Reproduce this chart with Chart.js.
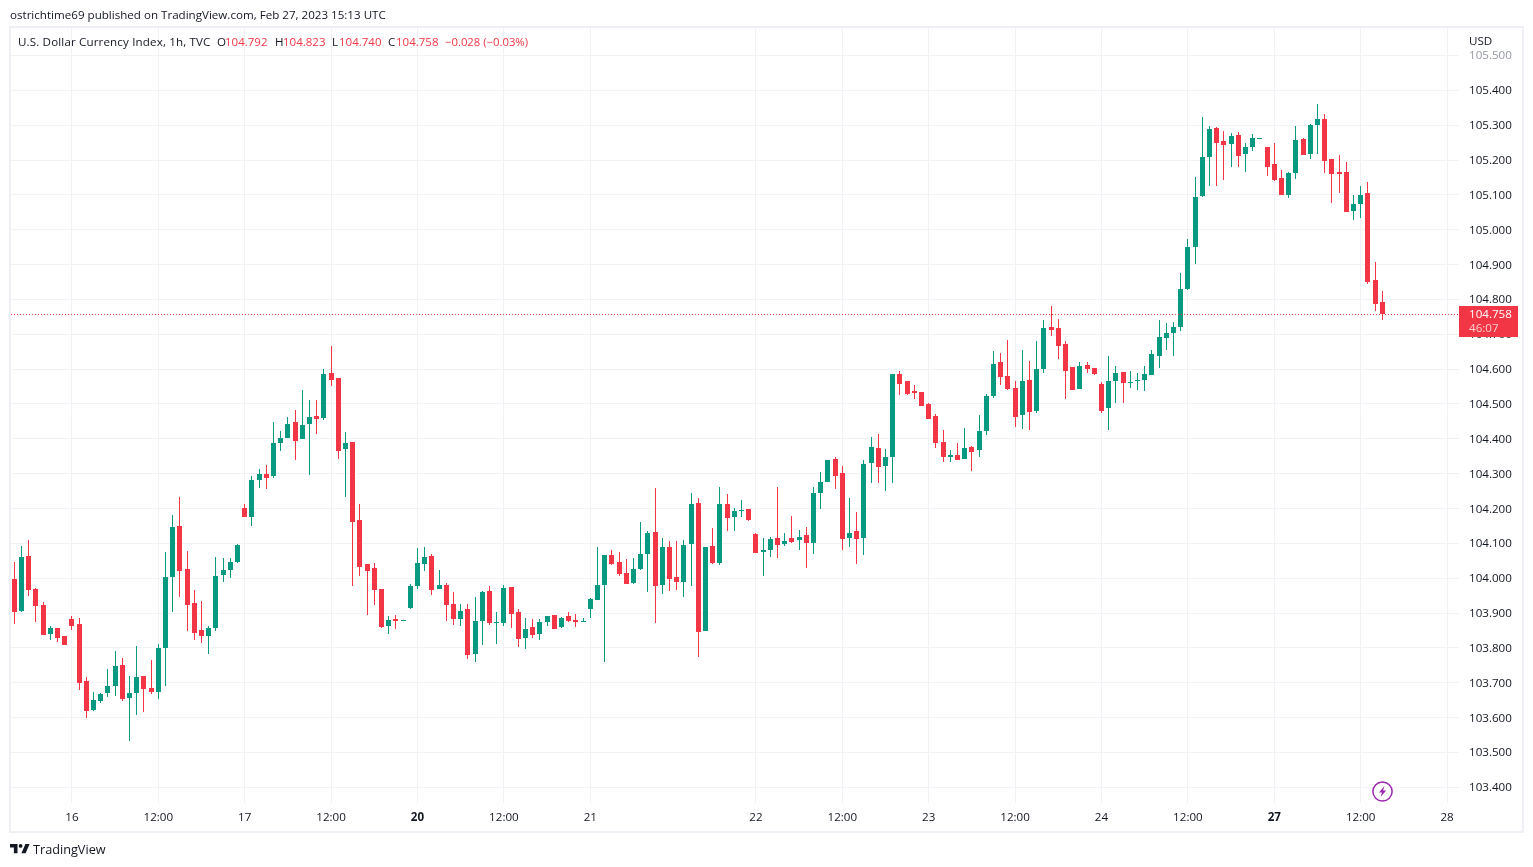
<!DOCTYPE html>
<html><head><meta charset="utf-8">
<script src="https://cdn.jsdelivr.net/npm/chart.js@4"></script>
<style>
html,body{margin:0;padding:0;background:#fff;width:1533px;height:867px;overflow:hidden}
body{font-family:"Open Sans",sans-serif;color:#131722;font-size:11.6px;position:relative}
canvas{position:absolute;left:0;top:0}
.t{position:absolute;white-space:nowrap;line-height:16px}
.r{color:#f23645;font-size:11.5px}
#frame{position:absolute;left:9px;top:26px;width:1511px;height:803px;border:2px solid #eef0f6}
</style></head><body>
<div id="frame"></div>
<canvas id="c" width="1533" height="867" style="width:1533px;height:867px"></canvas>
<div class="t" style="left:10px;top:7px">ostrichtime69 published on TradingView.com, Feb 27, 2023 15:13 UTC</div>
<div class="t" style="left:18px;top:34px;letter-spacing:.14px">U.S. Dollar Currency Index, 1h, TVC</div>
<div class="t" style="left:217px;top:34px">O</div><div class="t r" style="left:225px;top:34px">104.792</div>
<div class="t" style="left:275px;top:34px">H</div><div class="t r" style="left:283px;top:34px">104.823</div>
<div class="t" style="left:332px;top:34px">L</div><div class="t r" style="left:339px;top:34px">104.740</div>
<div class="t" style="left:388px;top:34px">C</div><div class="t r" style="left:396px;top:34px">104.758</div>
<div class="t r" style="left:445px;top:34px;font-size:11.3px">−0.028 (−0.03%)</div>
<div class="t" style="left:1469px;top:33px">USD</div>
<svg style="position:absolute;left:1371px;top:780px" width="24" height="24" viewBox="0 0 24 24"><circle cx="11.5" cy="11.5" r="9.6" fill="#fff" stroke="#9c27b0" stroke-width="1.5"/><path d="M13.5 6 L8 12.6 H11 L9.6 17 L15.2 10.6 H12.1 Z" fill="#9c27b0"/></svg>
<svg style="position:absolute;left:10px;top:844px" width="20" height="10" viewBox="0 0 20 10"><path d="M0 0H7.5V9.2H3.9V3.4H0Z" fill="#131722"/><circle cx="10.6" cy="1.9" r="1.9" fill="#131722"/><path d="M15.4 0H19.6L15.6 9.2H11.4Z" fill="#131722"/></svg>
<div class="t" style="left:33px;top:841px;font-size:12.7px">TradingView</div>
<script>
const opens=[103.998,103.906,104.064,103.969,103.923,103.840,103.857,103.834,103.883,103.869,
103.705,103.622,103.648,103.671,103.691,103.751,103.656,103.671,103.720,103.685,
103.674,103.800,104.004,104.150,104.027,103.929,103.852,103.834,103.857,104.010,
104.024,104.047,104.202,104.176,104.282,104.300,104.294,104.389,104.403,104.449,
104.400,104.443,104.466,104.460,104.590,104.575,104.371,104.391,104.167,104.041,
104.030,103.969,103.863,103.883,103.878,103.915,103.978,104.041,104.064,103.969,
103.981,103.926,103.883,103.912,103.783,103.878,103.964,103.873,103.872,103.975,
103.903,103.829,103.860,103.840,103.875,103.895,103.860,103.892,103.880,103.875,
103.912,103.938,103.981,104.067,104.047,104.015,103.987,104.027,104.070,104.133,
103.981,104.090,104.004,103.989,104.099,104.216,103.849,104.093,104.044,104.213,
104.176,104.193,104.199,104.127,104.076,104.081,104.116,104.099,104.116,104.110,
104.124,104.101,104.245,104.277,104.343,104.302,104.116,104.136,104.116,104.331,
104.374,104.323,104.348,104.587,104.567,104.538,104.535,104.501,104.466,104.391,
104.348,104.354,104.343,104.377,104.368,104.423,104.523,104.620,104.580,104.546,
104.467,104.570,104.481,104.599,104.720,104.717,104.671,104.605,104.542,104.613,
104.602,104.556,104.487,104.565,104.593,104.559,104.565,104.570,104.582,104.639,
104.688,104.705,104.720,104.829,104.949,105.096,105.208,105.291,105.254,105.245,
105.271,105.216,105.236,105.260,105.236,105.188,105.147,105.101,105.162,105.259,
105.216,105.300,105.317,105.202,105.165,105.167,105.053,105.073,105.104,104.855,
104.792];
const highs=[104.047,104.093,104.110,103.972,103.932,103.863,103.857,103.834,103.892,103.886,
103.717,103.674,103.671,103.740,103.791,103.771,103.720,103.806,103.720,103.766,
103.811,104.076,104.182,104.234,104.078,103.967,103.935,103.863,104.061,104.058,
104.058,104.099,104.213,104.294,104.314,104.325,104.449,104.423,104.463,104.483,
104.541,104.512,104.512,104.601,104.667,104.575,104.420,104.391,104.213,104.041,
104.044,103.969,103.892,103.895,103.880,103.984,104.087,104.090,104.070,104.024,
103.987,103.961,103.926,103.926,103.946,103.964,103.978,103.903,103.981,103.975,
103.912,103.886,103.883,103.883,103.892,103.895,103.889,103.903,103.898,103.886,
103.944,104.090,104.067,104.081,104.076,104.056,104.058,104.162,104.136,104.259,
104.116,104.107,104.107,104.110,104.245,104.231,104.090,104.145,104.262,104.242,
104.202,104.225,104.199,104.130,104.116,104.119,104.262,104.130,104.179,104.139,
104.147,104.262,104.305,104.340,104.348,104.323,104.231,104.190,104.340,104.406,
104.414,104.371,104.587,104.595,104.567,104.555,104.535,104.503,104.472,104.426,
104.368,104.389,104.432,104.380,104.469,104.529,104.652,104.646,104.684,104.566,
104.656,104.622,104.682,104.740,104.780,104.745,104.682,104.605,104.619,104.619,
104.602,104.562,104.639,104.610,104.593,104.596,104.588,104.608,104.654,104.740,
104.731,104.734,104.875,104.972,105.150,105.323,105.297,105.294,105.282,105.277,
105.279,105.248,105.274,105.262,105.236,105.248,105.170,105.167,105.297,105.262,
105.302,105.360,105.331,105.202,105.213,105.193,105.101,105.124,105.136,104.906,
104.823];
const lows=[103.869,103.903,103.949,103.875,103.837,103.823,103.817,103.809,103.852,103.679,
103.599,103.619,103.642,103.659,103.662,103.648,103.533,103.608,103.616,103.668,
103.654,103.691,103.903,103.946,103.849,103.823,103.814,103.783,103.849,103.989,
104.001,104.044,104.176,104.150,104.259,104.256,104.288,104.366,104.403,104.340,
104.400,104.297,104.414,104.455,104.552,104.343,104.234,103.978,104.007,103.895,
103.923,103.857,103.840,103.855,103.878,103.912,103.969,104.021,103.952,103.969,
103.878,103.866,103.863,103.768,103.760,103.809,103.866,103.811,103.863,103.857,
103.803,103.797,103.829,103.823,103.863,103.855,103.857,103.875,103.860,103.875,
103.886,103.938,103.760,104.038,104.007,103.984,103.984,104.024,103.961,103.872,
103.955,103.964,103.967,103.946,103.978,103.774,103.849,104.041,104.038,104.136,
104.136,104.176,104.165,104.073,104.007,104.061,104.058,104.093,104.101,104.081,
104.030,104.070,104.199,104.277,104.256,104.081,104.090,104.041,104.067,104.274,
104.274,104.251,104.274,104.526,104.526,104.515,104.495,104.457,104.374,104.334,
104.334,104.340,104.343,104.308,104.348,104.412,104.518,104.554,104.540,104.434,
104.427,104.424,104.473,104.588,104.694,104.628,104.513,104.539,104.542,104.588,
104.582,104.473,104.424,104.504,104.504,104.547,104.539,104.536,104.582,104.602,
104.656,104.639,104.708,104.826,104.903,105.093,105.124,105.124,105.142,105.179,
105.179,105.165,105.225,105.260,105.153,105.139,105.099,105.090,105.145,105.213,
105.202,105.216,105.162,105.078,105.104,105.050,105.027,105.035,104.843,104.768,
104.740];
const closes=[103.903,104.061,103.967,103.921,103.837,103.857,103.829,103.809,103.863,103.700,
103.619,103.651,103.668,103.691,103.748,103.654,103.671,103.717,103.682,103.674,
103.800,104.004,104.147,104.021,103.923,103.843,103.834,103.857,104.007,104.024,
104.047,104.096,104.176,104.282,104.300,104.288,104.389,104.403,104.443,104.394,
104.440,104.463,104.457,104.587,104.569,104.366,104.389,104.162,104.033,104.021,
103.967,103.860,103.880,103.878,103.880,103.978,104.044,104.061,103.967,103.981,
103.923,103.883,103.906,103.780,103.878,103.961,103.872,103.875,103.972,103.898,
103.826,103.855,103.837,103.875,103.892,103.855,103.886,103.878,103.875,103.877,
103.941,103.981,104.067,104.041,104.012,103.984,104.027,104.070,104.130,103.978,
104.090,103.998,103.989,104.096,104.213,103.846,104.090,104.044,104.213,104.173,
104.193,104.196,104.167,104.073,104.081,104.113,104.096,104.107,104.104,104.119,
104.101,104.245,104.277,104.340,104.294,104.113,104.130,104.113,104.328,104.377,
104.320,104.348,104.587,104.558,104.529,104.532,104.495,104.457,104.389,104.348,
104.354,104.340,104.374,104.363,104.423,104.523,104.615,104.578,104.543,104.463,
104.565,104.478,104.599,104.717,104.711,104.665,104.596,104.539,104.610,104.599,
104.585,104.481,104.567,104.590,104.559,104.562,104.570,104.585,104.642,104.691,
104.705,104.722,104.829,104.949,105.093,105.208,105.288,105.248,105.242,105.268,
105.211,105.236,105.262,105.262,105.179,105.142,105.099,105.162,105.256,105.213,
105.300,105.317,105.196,105.159,105.159,105.050,105.073,105.101,104.849,104.786,
104.758];
const priceTicks=[105.5,105.4,105.3,105.2,105.1,105.0,104.9,104.8,104.7,104.6,104.5,104.4,104.3,104.2,104.1,104.0,103.9,103.8,103.7,103.6,103.5,103.4];
const timeTickHours=[8,20,32,44,56,68,80,103,115,127,139,151,163,175,187,199];
const timeTickLabels=["16","12:00","17","12:00","20","12:00","21","22","12:00","23","12:00","24","12:00","27","12:00","28"];
const boldLabels=["20","27"];
const lastPrice=104.758, countdown="46:07";
const UP="#089981",DOWN="#f23645",GRID="#f1f2f5",FONT='"Open Sans",sans-serif';
const XMIN=-0.5,XMAX=200.583;
const hours=opens.map((_,i)=>i);
const col=c=>closes[c.dataIndex]>=opens[c.dataIndex]?UP:DOWN;

const snap={id:'snap',afterDatasetsUpdate(ch){
  ch.data.datasets.forEach((d,i)=>{
    const pts=ch.getDatasetMeta(i).data;
    if(d.type==='line'){ pts.forEach(el=>{el.x=Math.round(el.x);el.y=Math.floor(el.y)+0.5;}); return; }
    pts.forEach(el=>{
      el.x=Math.floor(el.x)+0.5;
      let a=Math.round(el.y),b=Math.round(el.base);
      if(a===b)b=a+1; el.y=a; el.base=b;
    });
  });
}};
const tag={id:'tag',afterDraw(ch){
  const g=ch.ctx,y=Math.floor(ch.scales.y.getPixelForValue(lastPrice));
  g.save();
  g.fillStyle=DOWN; g.fillRect(1459,y-8,59,31);
  g.textAlign='left'; g.textBaseline='middle'; g.font='11.6px '+FONT;
  g.fillStyle='#ffffff'; g.fillText(lastPrice.toFixed(3),1469,y+1);
  g.fillStyle='rgba(255,255,255,.75)'; g.fillText(countdown,1469,y+14.5);
  g.restore();
}};
new Chart(document.getElementById('c'),{
  type:'bar',
  plugins:[snap,tag],
  data:{datasets:[
    {type:'bar',label:'wick',order:3,grouped:false,barThickness:1,borderWidth:0,inflateAmount:0,borderSkipped:false,
     backgroundColor:col,data:hours.map(i=>({x:i,y:[lows[i],highs[i]]}))},
    {type:'bar',label:'body',order:2,grouped:false,barThickness:5,borderWidth:0,inflateAmount:0,borderSkipped:false,
     backgroundColor:col,data:hours.map(i=>({x:i,y:[opens[i],closes[i]]}))},
    {type:'line',label:'last',order:1,borderColor:DOWN,borderWidth:1,borderDash:[1,2],pointRadius:0,
     data:[{x:XMIN,y:lastPrice},{x:XMAX,y:lastPrice}]}
  ]},
  options:{
    responsive:false,animation:false,devicePixelRatio:1,
    layout:{padding:{left:10.7,top:28,right:0,bottom:0}},
    plugins:{legend:{display:false},tooltip:{enabled:false}},
    scales:{
      x:{type:'linear',min:XMIN,max:XMAX,offset:false,
        afterBuildTicks(s){s.ticks=timeTickHours.map(v=>({value:v}));},
        afterFit(s){s.height=64;},
        border:{display:false},
        grid:{color:GRID,drawTicks:false,lineWidth:1,offset:false},
        ticks:{autoSkip:false,maxRotation:0,padding:8,color:'#131722',
          callback:v=>timeTickLabels[timeTickHours.indexOf(v)],
          font:c=>({family:FONT,size:11.6,weight:boldLabels.includes(c.tick&&c.tick.label)?'bold':'normal'})}
      },
      y:{type:'linear',position:'right',min:103.355,max:105.5788,
        afterBuildTicks(s){s.ticks=priceTicks.map(v=>({value:v}));},
        afterFit(s){s.width=74.5;},
        border:{display:false},
        grid:{color:GRID,drawTicks:false,lineWidth:1},
        ticks:{padding:10.5,labelOffset:0.7,autoSkip:false,crossAlign:'near',
          color:c=>c.tick.value===105.5?'#9598a1':'#131722',
          callback:v=>v.toFixed(3),font:{family:FONT,size:11.6}}
      }
    }
  }
});
</script>
</body></html>
